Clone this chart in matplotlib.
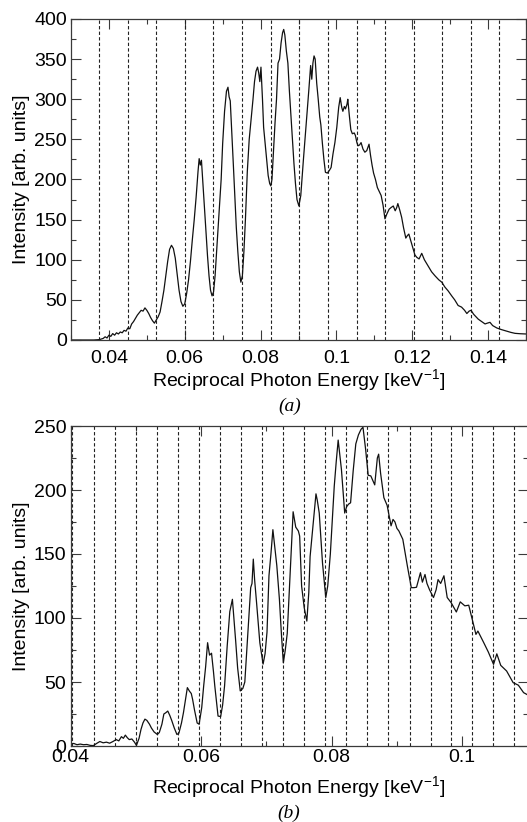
import numpy as np
import matplotlib
matplotlib.use("Agg")
import matplotlib.pyplot as plt
from matplotlib.ticker import MultipleLocator

plt.rcParams["font.family"] = ["Liberation Sans", "DejaVu Sans"]
plt.rcParams["mathtext.default"] = "regular"

# ---------------------------
# panel (a) spectrum
# ---------------------------
a_x = [0.0300, 0.0360, 0.0375, 0.0385, 0.0390, 0.0395, 0.0400, 0.0405, 0.0410, 0.0415,
       0.0420, 0.0425, 0.0430, 0.0435, 0.0440, 0.0445, 0.0450, 0.0455, 0.0460, 0.0465,
       0.0470, 0.0475, 0.0480, 0.0485, 0.0490, 0.0495, 0.0500, 0.0505, 0.0510, 0.0515,
       0.0520, 0.0525, 0.0530, 0.0535, 0.0540, 0.0545, 0.0550, 0.0555, 0.0560, 0.0565,
       0.0570, 0.0575, 0.0580, 0.0585, 0.0590, 0.0595, 0.0600, 0.0605, 0.0610, 0.0615,
       0.0620, 0.0625, 0.0630, 0.0635, 0.0638, 0.0641, 0.0644, 0.0648, 0.0652, 0.0656,
       0.0660, 0.0664, 0.0668, 0.0672, 0.0676, 0.0680, 0.0684, 0.0688, 0.0692, 0.0696,
       0.0700, 0.0705, 0.0710, 0.0714, 0.0717, 0.0720, 0.0724, 0.0728, 0.0732, 0.0736,
       0.0740, 0.0744, 0.0748, 0.0752, 0.0756, 0.0760, 0.0765, 0.0770, 0.0775, 0.0780,
       0.0784, 0.0788, 0.0792, 0.0795, 0.0798, 0.0801, 0.0805, 0.0808, 0.0812, 0.0816,
       0.0820, 0.0824, 0.0827, 0.0830, 0.0834, 0.0838, 0.0842, 0.0846, 0.0850, 0.0854,
       0.0858, 0.0861, 0.0864, 0.0868, 0.0872, 0.0876, 0.0880, 0.0884, 0.0888, 0.0892,
       0.0896, 0.0901, 0.0906, 0.0913, 0.0918, 0.0922, 0.0927, 0.0932, 0.0935, 0.0938,
       0.0941, 0.0944, 0.0948, 0.0952, 0.0956, 0.0959, 0.0963, 0.0967, 0.0971, 0.0976,
       0.0981, 0.0986, 0.0991, 0.0996, 0.1001, 0.1006, 0.1010, 0.1014, 0.1017, 0.1021,
       0.1024, 0.1028, 0.1030, 0.1034, 0.1038, 0.1042, 0.1047, 0.1050, 0.1054, 0.1057,
       0.1061, 0.1065, 0.1070, 0.1075, 0.1080, 0.1086, 0.1090, 0.1094, 0.1098, 0.1103,
       0.1108, 0.1112, 0.1118, 0.1123, 0.1128, 0.1133, 0.1139, 0.1144, 0.1150, 0.1155,
       0.1159, 0.1162, 0.1167, 0.1172, 0.1177, 0.1183, 0.1187, 0.1191, 0.1196, 0.1202,
       0.1207, 0.1212, 0.1218, 0.1225, 0.1232, 0.1242, 0.1251, 0.1260, 0.1270, 0.1278,
       0.1286, 0.1295, 0.1304, 0.1312, 0.1321, 0.1330, 0.1338, 0.1344, 0.1350, 0.1355,
       0.1362, 0.1374, 0.1383, 0.1392, 0.1398, 0.1405, 0.1412, 0.1423, 0.1435, 0.1445,
       0.1460, 0.1471, 0.1485, 0.1500]
a_y = [0, 0, 0.5, 2, 4, 2.5, 6, 4.5, 8, 6,
       9, 7.5, 10, 9, 12, 11, 15, 14, 20, 23,
       27, 31, 34, 37, 36, 40, 37, 33, 28, 24,
       21, 25, 29, 35, 48, 62, 80, 98, 113, 118,
       114, 102, 82, 62, 48, 42, 45, 58, 75, 98,
       125, 150, 178, 210, 226, 218, 224, 195, 165, 135,
       105, 80, 62, 55, 60, 80, 110, 140, 170, 200,
       245, 285, 310, 315, 303, 298, 260, 220, 180, 140,
       110, 85, 72, 80, 110, 150, 210, 250, 275, 300,
       322, 335, 340, 333, 322, 340, 300, 265, 245, 225,
       205, 195, 192, 200, 235, 270, 300, 345, 350, 370,
       383, 387, 380, 360, 345, 310, 280, 250, 220, 195,
       175, 167, 180, 225, 255, 279, 310, 342, 325, 345,
       354, 350, 320, 300, 278, 268, 245, 225, 209, 208,
       211, 215, 232, 246, 265, 290, 302, 290, 285, 291,
       288, 294, 300, 280, 262, 257, 258, 255, 246, 242,
       243, 246, 238, 234, 236, 244, 230, 218, 208, 200,
       190, 186, 180, 168, 151, 157, 163, 165, 167, 161,
       165, 170, 162, 153, 140, 127, 130, 132, 124, 114,
       106, 103, 101, 108, 100, 92, 85, 80, 75, 72,
       66, 61, 55, 50, 43, 41, 37, 33, 36, 37,
       32, 26, 23, 20, 21, 22, 18, 15, 13, 11.6,
       9.5, 8.3, 7.8, 7.5]
a_lines = [0.0374, 0.0450, 0.0525, 0.0601, 0.0675, 0.0752, 0.0827, 0.0902,
           0.0978, 0.1053, 0.1129, 0.1205, 0.1279, 0.1354, 0.1430]

# ---------------------------
# panel (b) spectrum
# ---------------------------
b_x = [0.0400, 0.0405, 0.0410, 0.0415, 0.0420, 0.0425, 0.0430, 0.0435, 0.0440, 0.0445,
       0.0450, 0.0455, 0.0460, 0.0465, 0.0470, 0.0474, 0.0478, 0.0481, 0.0484, 0.0487,
       0.0490, 0.0494, 0.0498, 0.0501, 0.0505, 0.0508, 0.0511, 0.0514, 0.0517, 0.0521,
       0.0524, 0.0528, 0.0533, 0.0536, 0.0540, 0.0543, 0.0546, 0.0549, 0.0552, 0.0555,
       0.0559, 0.0563, 0.0566, 0.0570, 0.0573, 0.0576, 0.0579, 0.0582, 0.0585, 0.0587,
       0.0590, 0.0594, 0.0597, 0.0601, 0.0604, 0.0607, 0.0610, 0.0613, 0.0616, 0.0619,
       0.0621, 0.0624, 0.0626, 0.0630, 0.0633, 0.0636, 0.0640, 0.0644, 0.0648, 0.0651,
       0.0653, 0.0656, 0.0660, 0.0664, 0.0667, 0.0671, 0.0676, 0.0678, 0.0680, 0.0682,
       0.0685, 0.0690, 0.0695, 0.0698, 0.0701, 0.0704, 0.0707, 0.0710, 0.0713, 0.0716,
       0.0720, 0.0723, 0.0726, 0.0729, 0.0732, 0.0736, 0.0739, 0.0741, 0.0743, 0.0745,
       0.0749, 0.0751, 0.0754, 0.0758, 0.0762, 0.0765, 0.0767, 0.0771, 0.0776, 0.0778,
       0.0781, 0.0786, 0.0791, 0.0794, 0.0798, 0.0804, 0.0807, 0.0810, 0.0812, 0.0815,
       0.0820, 0.0823, 0.0826, 0.0829, 0.0833, 0.0837, 0.0841, 0.0845, 0.0848, 0.0852,
       0.0856, 0.0860, 0.0866, 0.0870, 0.0872, 0.0875, 0.0880, 0.0885, 0.0888, 0.0891,
       0.0894, 0.0897, 0.0900, 0.0903, 0.0909, 0.0916, 0.0922, 0.0926, 0.0930, 0.0936,
       0.0939, 0.0943, 0.0946, 0.0950, 0.0956, 0.0960, 0.0963, 0.0967, 0.0972, 0.0977,
       0.0983, 0.0991, 0.0997, 0.1004, 0.1010, 0.1015, 0.1021, 0.1024, 0.1033, 0.1040,
       0.1048, 0.1053, 0.1059, 0.1068, 0.1078, 0.1086, 0.1094, 0.1100]
b_y = [1.5, 2, 1, 1.5, 1, 1.2, 0.5, 0.3, 2, 3.5,
       2.5, 3, 2.2, 3.5, 5, 4, 7.3, 6, 8.5, 6.5,
       5, 5.5, 3, 0.5, 6, 13, 18, 21, 20, 17,
       14, 11, 9, 10.5, 17, 25, 26, 27.3, 24, 20,
       14, 9, 10, 18, 26, 36, 45.6, 43, 41, 36.5,
       28, 18, 17, 30, 47, 62, 80.7, 71, 72.5, 58,
       47, 33, 23.4, 23, 32, 47, 78, 105, 114.6, 95,
       82, 61, 43, 45, 50, 83, 123.7, 127, 146, 130,
       112, 80.7, 64, 72, 89, 133, 150, 169, 155, 141,
       114.6, 88, 65, 75, 88, 130, 160, 183, 177, 171,
       168, 164, 125, 108, 97.6, 120, 148, 170, 197, 192,
       182, 143, 116, 125, 150, 203, 222, 239, 230, 216,
       182, 187, 189, 190, 215, 236, 243, 247.4, 249, 232,
       211.5, 211, 204, 225, 228, 213, 194, 188, 180, 172,
       177, 175, 170, 168, 161.5, 140.6, 123.7, 123.7, 124, 135.4,
       128, 134, 127, 122, 116, 122, 130, 127, 133, 116,
       112, 104.7, 112.6, 109.5, 110, 99.5, 87.2, 89.8, 80.7, 73.4,
       63.8, 72, 63, 58.6, 49.5, 47.5, 41.7, 40]
b_lines = [0.04026, 0.04361, 0.04686, 0.05002, 0.05326, 0.05651, 0.05971, 0.06291,
           0.06617, 0.06939, 0.07258, 0.07582, 0.07902, 0.08227, 0.08547, 0.08867,
           0.09194, 0.09518, 0.09834, 0.10154, 0.10479, 0.10799]

xlabel = "Reciprocal Photon Energy [keV$^{-1}$]"
ylabel = "Intensity [arb. units]"

W, H = 527, 822
fig = plt.figure(figsize=(W / 100, H / 100), dpi=100)

ax1 = fig.add_axes([71 / W, 1 - 340 / H, 455 / W, 321 / H])
ax2 = fig.add_axes([70.5 / W, 1 - 746 / H, 457 / W, 320 / H])

spine_col = "#3a3a3a"

def style(ax, xpad):
    for s in ax.spines.values():
        s.set_color(spine_col)
        s.set_linewidth(0.9)
    ax.tick_params(which="both", direction="in", top=True, right=True,
                   color=spine_col, width=0.8, labelsize=14)
    ax.tick_params(which="major", length=7)
    ax.tick_params(which="minor", length=3.5)
    ax.tick_params(axis="x", which="major", pad=xpad)
    ax.tick_params(axis="y", which="major", pad=3)
    ax.xaxis.set_major_locator(MultipleLocator(0.02))
    ax.xaxis.set_minor_locator(MultipleLocator(0.01))
    ax.yaxis.set_major_locator(MultipleLocator(50))
    ax.yaxis.set_minor_locator(MultipleLocator(25))
    ax.xaxis.set_major_formatter(lambda v, p: f"{v:g}")

# panel a
for xv in a_lines:
    ax1.axvline(xv, color="#222222", lw=0.8, ls=(0, (3, 2)))
ax1.plot(a_x, a_y, color="#111111", lw=0.9)
ax1.set_xlim(0.03, 0.15)
ax1.set_ylim(0, 400)
style(ax1, 7)
ax1.set_xlabel(xlabel, fontsize=14)
ax1.set_ylabel(ylabel, fontsize=14)
ax1.xaxis.set_label_coords(0.5, -0.085)
ax1.yaxis.set_label_coords(-0.09, 0.5)

# panel b
for xv in b_lines:
    ax2.axvline(xv, color="#222222", lw=0.8, ls=(0, (3, 2)))
ax2.plot(b_x, b_y, color="#111111", lw=0.9)
ax2.set_xlim(0.04, 0.11)
ax2.set_ylim(0, 250)
style(ax2, 2)
ax2.set_xlabel(xlabel, fontsize=14)
ax2.set_ylabel(ylabel, fontsize=14)
ax2.xaxis.set_label_coords(0.5, -0.088)
ax2.yaxis.set_label_coords(-0.089, 0.5)

fig.text(290 / W, 1 - 406 / H, "(a)", family="Liberation Serif", style="italic",
         fontsize=14, ha="center", va="center")
fig.text(289 / W, 1 - 813 / H, "(b)", family="Liberation Serif", style="italic",
         fontsize=14, ha="center", va="center")

fig.savefig("out.png", dpi=100)
